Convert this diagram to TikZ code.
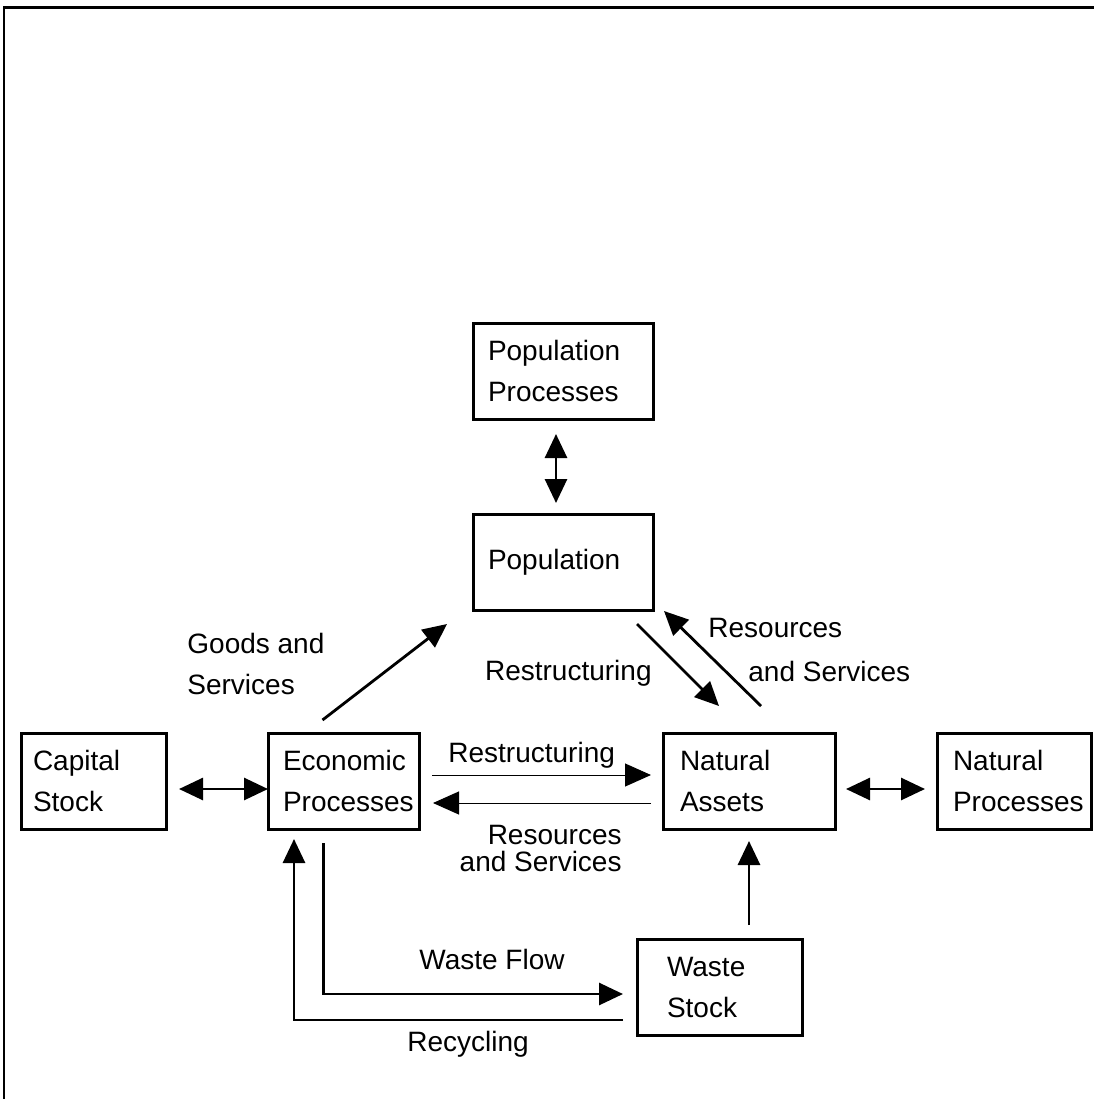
\documentclass[tikz,border=0pt]{standalone}
\usepackage{fontspec}
\setmainfont{Liberation Sans}
\usetikzlibrary{arrows.meta, calc, positioning}

\tikzset{
  blk/.style={draw, line width=1.5pt, anchor=north west, align=left, inner xsep=7.5pt,
    inner ysep=0pt, outer sep=0pt, minimum height=48pt, font=\fontsize{14pt}{20.5pt}\selectfont},
  lbl/.style={align=left, inner sep=0pt, font=\fontsize{14pt}{20.5pt}\selectfont},
  flow/.style={line width=1.4pt, -{Triangle[length=12pt,width=11pt]}},
  both/.style={line width=1.4pt, {Triangle[length=12pt,width=11pt]}-{Triangle[length=12pt,width=11pt]}},
  thin/.style={line width=0.5pt, -{Triangle[length=13pt,width=11.5pt]}}
}

\begin{document}
\begin{tikzpicture}[x=0.5pt, y=-0.5pt]
      \useasboundingbox (0,0) rectangle (1094,1099);
      \draw[line width=1.5pt] (3,7) -- (1094,7);
      \draw[line width=1pt] (4,7) -- (4,1099);

      \node[blk, text width=75pt] (pp) at (473,323) {Population\\Processes};
      \node[blk, text width=75pt] (pop) at (473,514) {Population};
      \node[blk, text width=60.5pt, inner xsep=6pt] (cap) at (21,733) {Capital\\Stock};
      \node[blk, text width=60.5pt] (eco) at (268,733) {Economic\\Processes};
      \node[blk, text width=69pt, inner xsep=8.5pt] (nat) at (663,733) {Natural\\Assets};
      \node[blk, text width=61pt, inner xsep=8pt] (np) at (937,733) {Natural\\Processes};
      \node[blk, text width=52.5pt, inner xsep=15pt] (ws) at (637,939) {Waste\\Stock};

      \node[lbl, anchor=north west] (gs) at (187,633) {Goods and\\Services};
      \node[lbl, anchor=north east] (rs1) at (652,660) {Restructuring};
      \node[lbl, anchor=north west, font=\fontsize{14pt}{22pt}\selectfont] (rsv1) at (708,618) {Resources\\\hspace*{20pt}and Services};
      \node[lbl, anchor=north west] (rs2) at (448,742) {Restructuring};
      \node[lbl, anchor=north east, align=right, font=\fontsize{14pt}{13.5pt}\selectfont] (rsv2) at (622,825) {Resources\\and Services};
      \node[lbl, anchor=north west] (wf) at (419,949) {Waste Flow};
      \node[lbl, anchor=north west] (rc) at (407,1031) {Recycling};

      \draw[both] ($(pp.south)+(-7,15)$) -- ($(pop.north)+(-7,-11)$);
      \draw[flow] ($(eco.north)+(-21,-13)$) -- ($(pop.south west)+(-26,14)$);
      \draw[flow] ($(pop.south east)+(-16,14)$) -- ($(nat.north west)+(56,-27)$);
      \draw[flow] ($(nat.north west)+(98,-27)$) -- ($(pop.south east)+(11,1)$);
      \draw[thin] ($(eco.east)+(13,-6)$) -- ($(nat.west)+(-12,-6)$);
      \draw[thin] ($(nat.west)+(-12,22)$) -- ($(eco.east)+(14,22)$);
      \draw[both] ($(cap.east)+(13,8)$) -- ($(eco.west)+(0,8)$);
      \draw[both] ($(nat.east)+(11,8)$) -- ($(np.west)+(-12,8)$);
      \draw[flow] ($(eco.south)+(-20,14)$) |- ($(ws.west)+(-14,7)$);
      \draw[flow] ($(ws.west)+(-14,33)$) -| ($(eco.south)+(-49.5,10)$);
      \draw[flow] ($(ws.north -| nat.south)+(0,-14)$) -- ($(nat.south)+(0,12)$);
    \end{tikzpicture}
\end{document}
